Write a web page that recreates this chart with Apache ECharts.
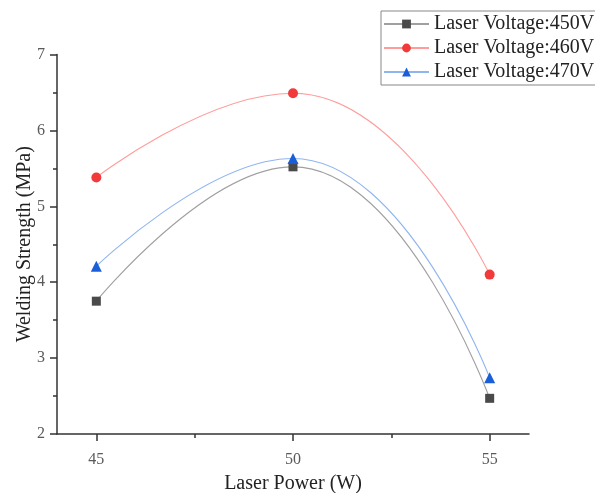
<!DOCTYPE html>
<html>
<head>
<meta charset="utf-8">
<script src="https://cdn.jsdelivr.net/npm/echarts@6/dist/echarts.min.js"></script>
<style>html,body{margin:0;padding:0;background:#fff}#c{width:595px;height:493px}</style>
</head>
<body>
<div id="c"></div>
<script>
const powers = [45, 50, 55];
const v450 = [3.75, 5.52, 2.47];
const v460 = [5.38, 6.49, 4.10];
const v470 = [4.21, 5.63, 2.74];
const seriesNames = ['Laser Voltage:450V', 'Laser Voltage:460V', 'Laser Voltage:470V'];
const xTicks = [45, 50, 55];
const xMinorTicks = [47.5, 52.5];

const font = '"Liberation Serif", "Times New Roman", serif';
const pair = arr => powers.map((p, i) => [p, arr[i]]);

const chart = echarts.init(document.getElementById('c'));
chart.setOption({
  animation: false,
  backgroundColor: '#fff',
  grid: { left: 57, right: 66, top: 54.5, bottom: 59, containLabel: false, outerBoundsMode: 'none' },
  legend: {
    orient: 'vertical',
    left: 381, top: 11,
    itemWidth: 45, itemHeight: 11, itemGap: 4,
    padding: [3, 8, 3, 2],
    borderColor: '#888', borderWidth: 1,
    backgroundColor: '#fff',
    textStyle: { fontFamily: font, fontSize: 20, color: '#222' },
    data: seriesNames
  },
  xAxis: [{
    type: 'value', min: 44, max: 56,
    name: 'Laser Power (W)', nameLocation: 'middle', nameGap: 40, nameMoveOverlap: false,
    nameTextStyle: { fontFamily: font, fontSize: 20, color: '#222' },
    axisLine: { show: true, lineStyle: { color: '#333', width: 1.5 } },
    axisTick: { show: true, length: 7, customValues: xTicks, lineStyle: { color: '#333', width: 1.5 } },
    axisLabel: { customValues: xTicks, fontFamily: font, fontSize: 16, color: '#5a5a5a', margin: 18 },
    splitLine: { show: false }
  }, {
    type: 'value', min: 44, max: 56, position: 'bottom',
    axisLine: { show: false },
    axisTick: { show: true, length: 4, customValues: xMinorTicks, lineStyle: { color: '#333', width: 1.5 } },
    axisLabel: { show: false },
    splitLine: { show: false }
  }],
  yAxis: {
    type: 'value', min: 2, max: 7, interval: 1,
    name: 'Welding Strength (MPa)', nameLocation: 'middle', nameGap: 22, nameMoveOverlap: false,
    nameTextStyle: { fontFamily: font, fontSize: 20, color: '#222' },
    axisLine: { show: true, lineStyle: { color: '#333', width: 1.5 } },
    axisTick: { show: true, length: 7, lineStyle: { color: '#333', width: 1.5 } },
    minorTick: { show: true, splitNumber: 2, length: 4, lineStyle: { color: '#333', width: 1.5 } },
    axisLabel: { fontFamily: font, fontSize: 16, color: '#5a5a5a', margin: 12 },
    splitLine: { show: false }
  },
  series: [{
    name: seriesNames[0], type: 'line', smooth: 0.5, data: pair(v450),
    symbol: 'rect', symbolSize: 9,
    lineStyle: { color: '#a0a0a0', width: 1.1 },
    itemStyle: { color: '#4a4a4a' }
  }, {
    name: seriesNames[1], type: 'line', smooth: 0.5, data: pair(v460),
    symbol: 'circle', symbolSize: 10,
    lineStyle: { color: '#ff9c9c', width: 1.1 },
    itemStyle: { color: '#f23a3a' }
  }, {
    name: seriesNames[2], type: 'line', smooth: 0.5, data: pair(v470),
    symbol: 'triangle', symbolSize: 11,
    lineStyle: { color: '#8fb5f0', width: 1.1 },
    itemStyle: { color: '#1a5fd8' }
  }]
});
</script>
</body>
</html>
